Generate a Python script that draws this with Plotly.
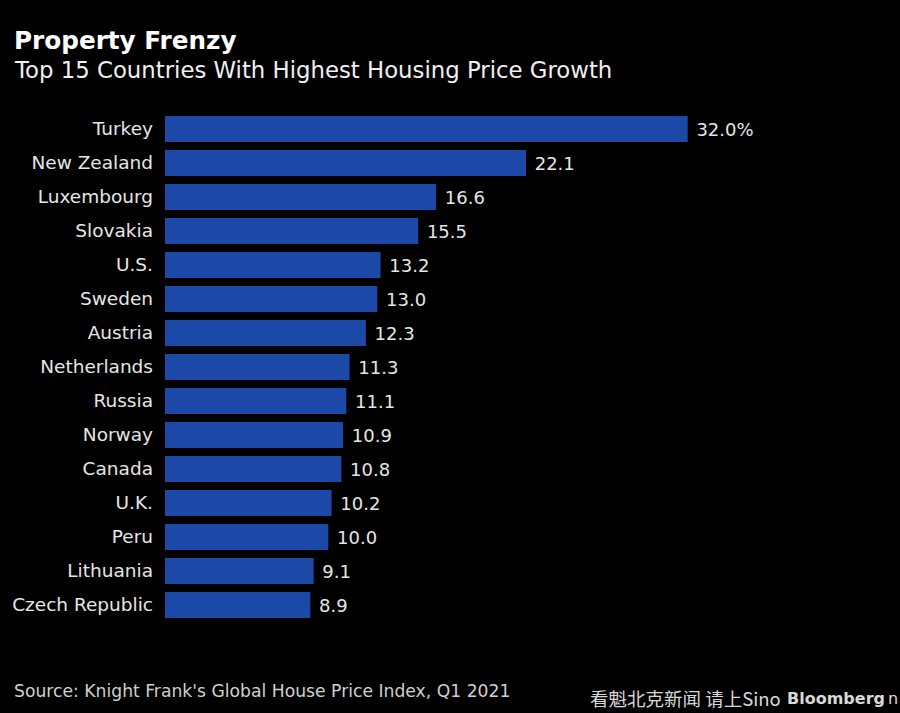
import plotly.graph_objects as go

countries = ["Turkey", "New Zealand", "Luxembourg", "Slovakia", "U.S.", "Sweden", "Austria",
             "Netherlands", "Russia", "Norway", "Canada", "U.K.", "Peru", "Lithuania", "Czech Republic"]
growth = [32.0, 22.1, 16.6, 15.5, 13.2, 13.0, 12.3, 11.3, 11.1, 10.9, 10.8, 10.2, 10.0, 9.1, 8.9]
labels = ["32.0%"] + [f"{v:.1f}" for v in growth[1:]]

FONT = "DejaVu Sans"
W, H = 900, 713
ML, MR, MT, MB = 165, 0, 112, 91

fig = go.Figure(go.Bar(
    x=growth, y=countries, orientation="h",
    marker=dict(color="#1c48a8", line=dict(width=0)),
    text=[" " + t for t in labels], textposition="outside",
    textfont=dict(family=FONT, size=18, color="#e6e6e6"),
    cliponaxis=False, width=0.76, hoverinfo="skip",
))


def px_ann(text, x, y, size, color, family=FONT):
    return dict(text=text, xref="paper", yref="paper",
                x=(x - ML) / (W - ML - MR), y=(H - MB - y) / (H - MT - MB),
                showarrow=False, xanchor="left", yanchor="middle",
                font=dict(family=family, size=size, color=color))


fig.update_layout(
    width=W, height=H,
    paper_bgcolor="black", plot_bgcolor="black",
    margin=dict(l=ML, r=MR, t=MT, b=MB),
    showlegend=False,
    xaxis=dict(range=[0, 45], visible=False, fixedrange=True),
    yaxis=dict(categoryorder="array", categoryarray=countries, autorange="reversed",
               tickfont=dict(family=FONT, size=18.5, color="#e6e6e6"),
               ticks="", showgrid=False, zeroline=False, showline=False,
               ticklabelstandoff=11, fixedrange=True),
    annotations=[
        px_ann("<b>Property Frenzy</b>", 12, 40, 24.7, "white"),
        px_ann("Top 15 Countries With Highest Housing Price Growth", 12, 70, 22.8, "#f0f0f0"),
        px_ann("Source: Knight Frank's Global House Price Index, Q1 2021", 12, 691, 17.2, "#d0d0d0"),
        px_ann("看魁北克新闻 请上Sino", 588, 698, 18.5, "#d8d8d8", "Noto Sans CJK SC"),
        px_ann("<b>Bloomberg</b>", 785, 698, 16, "#d8d8d8"),
        px_ann("n", 886, 698, 16, "#d8d8d8"),
    ],
)

fig.write_html("out.html", config={"displayModeBar": False},
               post_script="document.body.style.margin='0';document.body.style.overflow='hidden';")
